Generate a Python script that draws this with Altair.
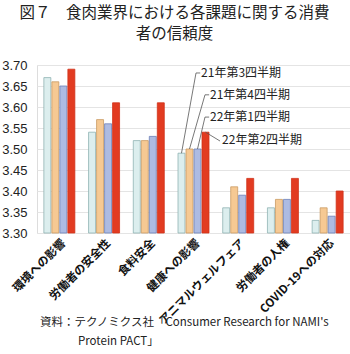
import json
import altair as alt
import pandas as pd

categories = ["環境への影響", "労働者の安全性", "食料安全", "健康への影響",
              "アニマルウェルフェア", "労働者の人権", "COVID-19への対応"]
series = ["21年第3四半期", "21年第4四半期", "22年第1四半期", "22年第2四半期"]
q21_3 = [3.67, 3.54, 3.52, 3.49, 3.36, 3.36, 3.33]
q21_4 = [3.66, 3.57, 3.52, 3.50, 3.41, 3.38, 3.36]
q22_1 = [3.65, 3.56, 3.53, 3.50, 3.39, 3.38, 3.34]
q22_2 = [3.69, 3.61, 3.61, 3.54, 3.43, 3.43, 3.40]
y_ticks = [3.30, 3.35, 3.40, 3.45, 3.50, 3.55, 3.60, 3.65, 3.70]
title_lines = ["図７　食肉業界における各課題に関する消費", "者の信頼度　"]
source_line1 = "資料：テクノミクス社「Consumer Research for NAMI's"
source_line2 = "Protein PACT」"

fills = ["#dceeee", "#f6c993", "#adbbe2", "#e23b21"]
strokes = ["#8fb3b3", "#c99a63", "#6d80b8", "#d0321a"]

FONT = "Noto Sans CJK JP"
STEP = 0.179   # spacing of bars inside a group (category units)
HALF = 0.078   # half bar width (category units)

values = [q21_3, q21_4, q22_1, q22_2]
rows = []
for s, name in enumerate(series):
    for i, cat in enumerate(categories):
        c = i + (s - 1.5) * STEP
        rows.append({"series": name, "cat": cat, "x1": c - HALF, "x2": c + HALF,
                     "value": values[s][i], "base": 3.30})
bars_df = pd.DataFrame(rows)

# legend labels pointing at the 健康への影響 group
k = categories.index("健康への影響")
label_x = [3.17, 3.37, 3.37, 3.64]
label_y = [3.681, 3.629, 3.576, 3.521]
bend_x = [3.056, 3.257, 3.257, 3.593]
line_rows = []
for s, name in enumerate(series):
    c = k + (s - 1.5) * STEP
    pts = [(c, values[s][k]), (bend_x[s], label_y[s] if s < 3 else 3.519)]
    if s < 3:
        pts.append((label_x[s] - 0.02, label_y[s]))
    for o, (px, py) in enumerate(pts):
        line_rows.append({"series": name, "ord": o, "x": px, "y": py})
lines_df = pd.DataFrame(line_rows)
labels_df = pd.DataFrame({"series": series, "x": label_x, "y": label_y})

xscale = alt.Scale(domain=[-0.5, len(categories) - 0.5], nice=False, zero=False)
yscale = alt.Scale(domain=[3.30, 3.70], nice=False, zero=False)
label_expr = json.dumps(categories, ensure_ascii=False) + "[datum.value]"

xaxis = alt.Axis(values=list(range(len(categories))), labelExpr=label_expr,
                 labelAngle=-45, labelFont=FONT, labelFontWeight="bold",
                 labelFontSize=11.5, labelColor="#111", ticks=False,
                 domain=False, grid=False, labelPadding=4,
                 labelOverlap=False, labelFlush=False)
yaxis = alt.Axis(values=y_ticks, format=".2f", ticks=False, domain=False,
                 labelFont="Liberation Sans", labelFontSize=13,
                 labelColor="#222", labelPadding=10,
                 labelOverlap=False, labelFlush=False,
                 gridColor="#e4e4e4", gridWidth=1)

bars = alt.Chart(bars_df).mark_bar(strokeWidth=0.8).encode(
    x=alt.X("x1:Q", scale=xscale, title=None, axis=xaxis),
    x2="x2:Q",
    y=alt.Y("value:Q", scale=yscale, title=None, axis=yaxis),
    y2="base:Q",
    fill=alt.Fill("series:N", scale=alt.Scale(domain=series, range=fills), legend=None),
    stroke=alt.Stroke("series:N", scale=alt.Scale(domain=series, range=strokes), legend=None),
)

leaders = alt.Chart(lines_df).mark_line(color="#555", strokeWidth=0.8).encode(
    x=alt.X("x:Q", scale=xscale, title=None, axis=xaxis),
    y=alt.Y("y:Q", scale=yscale, title=None, axis=yaxis),
    detail="series:N",
    order="ord:Q",
)

labels = alt.Chart(labels_df).mark_text(
    align="left", baseline="middle", font=FONT, fontSize=12, color="#222"
).encode(
    x=alt.X("x:Q", scale=xscale, title=None, axis=xaxis),
    y=alt.Y("y:Q", scale=yscale, title=None, axis=yaxis),
    text="series:N",
)

source1 = alt.Chart(pd.DataFrame({"t": [source_line1]})).mark_text(
    align="left", baseline="middle", font=FONT, fontSize=11.5, color="#222"
).encode(x=alt.value(3), y=alt.value(258), text="t:N")

source2 = alt.Chart(pd.DataFrame({"t": [source_line2]})).mark_text(
    align="left", baseline="middle", font=FONT, fontSize=11.5, color="#222"
).encode(x=alt.value(41), y=alt.value(277), text="t:N")

chart = alt.layer(bars, leaders, labels, source1, source2).properties(
    width=313, height=168,
    padding={"left": 37, "top": 65, "right": 0, "bottom": 121},
    autosize=alt.AutoSizeParams(type="none"),
    title=alt.Title(title_lines, anchor="middle", frame="group", dx=-19, offset=17,
                    font=FONT, fontSize=15.5, fontWeight="normal", color="#222",
                    lineHeight=21),
).configure_view(stroke=None).configure(background="white")

chart.save("out.html", embed_options={"renderer": "svg", "actions": False})
